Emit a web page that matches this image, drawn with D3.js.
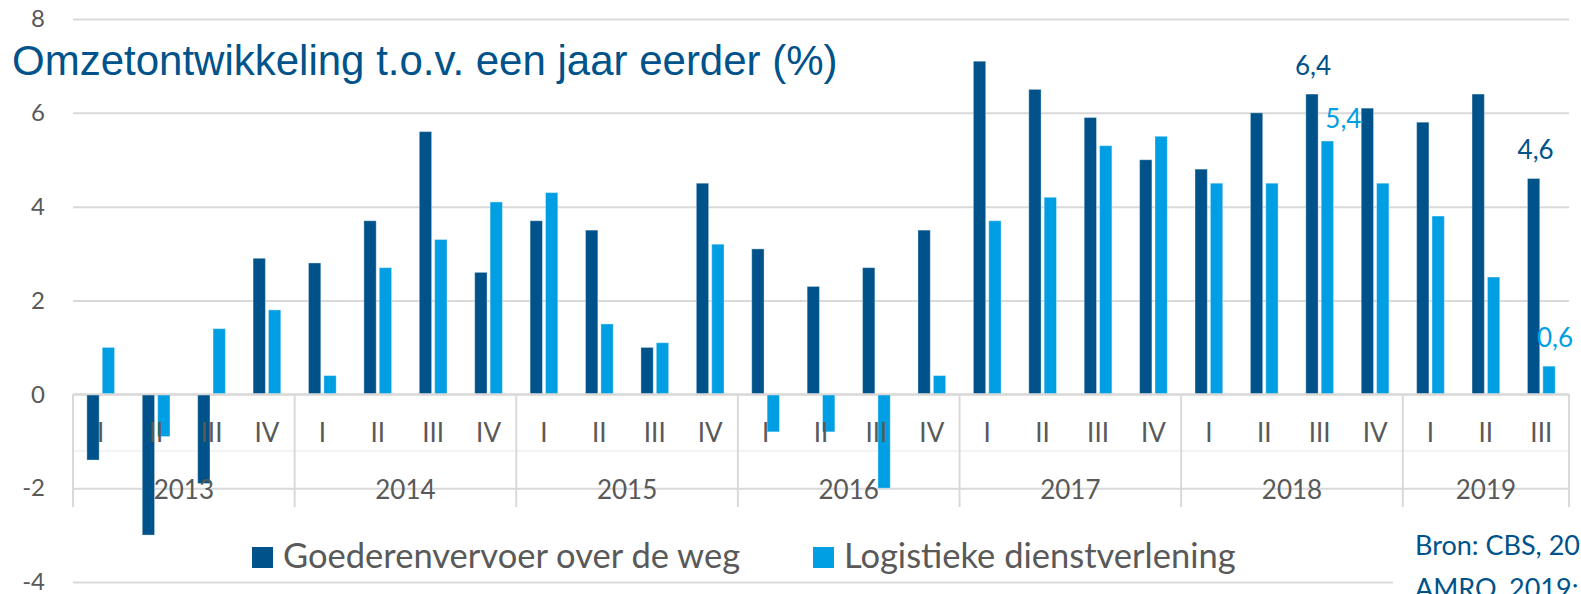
<!DOCTYPE html>
<html>
<head>
<meta charset="utf-8">
<script src="https://cdn.jsdelivr.net/npm/d3@7"></script>
<style>
  body { margin: 0; background: #fff; overflow: hidden; }
  svg { display: block; }
  .tick text, .lbl { font-family: Lato, "Open Sans", sans-serif; fill: #595959; }
</style>
</head>
<body>
<div id="chart"></div>
<script>
// data
var years = ["2013", "2014", "2015", "2016", "2017", "2018", "2019"];
var quarters = ["I", "II", "III", "IV"];
var seriesNames = ["Goederenvervoer over de weg", "Logistieke dienstverlening"];
var wegValues = [-1.4, -3.0, -1.9, 2.9,  2.8, 3.7, 5.6, 2.6,  3.7, 3.5, 1.0, 4.5,
                 3.1, 2.3, 2.7, 3.5,  7.1, 6.5, 5.9, 5.0,  4.8, 6.0, 6.4, 6.1,  5.8, 6.4, 4.6];
var logValues = [1.0, -0.9, 1.4, 1.8,  0.4, 2.7, 3.3, 4.1,  4.3, 1.5, 1.1, 3.2,
                 -0.8, -0.8, -2.0, 0.4,  3.7, 4.2, 5.3, 5.5,  4.5, 4.5, 5.4, 4.5,  3.8, 2.5, 0.6];
var yTicks = [-4, -2, 0, 2, 4, 6, 8];
// labelled bars: [series, index]
var labelled = [[0, 22], [1, 22], [0, 26], [1, 26]];

//styles
var width = 1581, height = 594;
var darkBlue = "#00538A";
var lightBlue = "#009FE3";
var gridColor = "#D9D9D9";
var textGrey = "#595959";
var colors = [darkBlue, lightBlue];

var plotLeft = 73, plotRight = 1569;

// build categories
var cats = [];
wegValues.forEach(function (v, i) {
  cats.push({ id: i, year: years[Math.floor(i / 4)], q: quarters[i % 4], vals: [v, logValues[i]] });
});

var svg = d3.select("#chart").append("svg")
  .attr("width", width)
  .attr("height", height);

var y = d3.scaleLinear().domain([-4, 8]).range([582, 19]);

var x0 = d3.scaleBand()
  .domain(cats.map(function (d) { return d.id; }))
  .range([plotLeft, plotRight])
  .paddingInner(0.5)
  .paddingOuter(0.25);

var x1 = d3.scaleBand()
  .domain([0, 1])
  .range([0, x0.bandwidth()])
  .paddingInner(0.2);

var step = x0.step();

// gridlines + y labels
var yAxis = d3.axisLeft(y)
  .tickValues(yTicks)
  .tickSize(-(plotRight - plotLeft))
  .tickPadding(28)
  .tickFormat(function (d) { return String(d); });

var yg = svg.append("g")
  .attr("transform", "translate(" + plotLeft + ",0)")
  .call(yAxis);
yg.select(".domain").remove();
yg.selectAll(".tick line").attr("stroke", gridColor).attr("stroke-width", 2);
yg.selectAll(".tick text")
  .attr("font-size", 24)
  .attr("fill", textGrey)
  .attr("text-anchor", "end")
  .attr("x", -28);

// category axis lines
var axisTop = y(0), axisMid = 451, axisBottom = 507;
svg.append("line")
  .attr("x1", plotLeft).attr("x2", plotRight)
  .attr("y1", axisMid).attr("y2", axisMid)
  .attr("stroke", "#EFEFEF").attr("stroke-width", 1.5);

var yearEdges = d3.range(0, cats.length + 1, 4).concat([cats.length]);
svg.selectAll(".sep")
  .data(yearEdges)
  .enter().append("line")
  .attr("class", "sep")
  .attr("x1", function (i) { return plotLeft + i * step; })
  .attr("x2", function (i) { return plotLeft + i * step; })
  .attr("y1", axisTop)
  .attr("y2", axisBottom)
  .attr("stroke", gridColor)
  .attr("stroke-width", 2);

// bars
var groups = svg.selectAll(".grp")
  .data(cats)
  .enter().append("g")
  .attr("class", "grp")
  .attr("transform", function (d) { return "translate(" + x0(d.id) + ",0)"; });

groups.selectAll("rect")
  .data(function (d) { return d.vals.map(function (v, s) { return { s: s, v: v }; }); })
  .enter().append("rect")
  .attr("x", function (d) { return x1(d.s); })
  .attr("width", x1.bandwidth())
  .attr("y", function (d) { return y(Math.max(0, d.v)); })
  .attr("height", function (d) { return Math.abs(y(d.v) - y(0)); })
  .attr("fill", function (d) { return colors[d.s]; })
  .attr("stroke", "rgba(255,255,255,0.35)")
  .attr("stroke-width", 1);

// zero line on top of bars
svg.append("line")
  .attr("x1", plotLeft).attr("x2", plotRight)
  .attr("y1", axisTop).attr("y2", axisTop)
  .attr("stroke", gridColor).attr("stroke-width", 2);

// quarter labels
svg.selectAll(".qlbl")
  .data(cats)
  .enter().append("text")
  .attr("class", "lbl qlbl")
  .attr("x", function (d) { return x0(d.id) + x0.bandwidth() / 2; })
  .attr("y", 442)
  .attr("text-anchor", "middle")
  .attr("font-size", 26)
  .text(function (d) { return d.q; });

// year labels
svg.selectAll(".ylbl")
  .data(years)
  .enter().append("text")
  .attr("class", "lbl ylbl")
  .attr("x", function (d, i) {
    var n = Math.min(4, cats.length - i * 4);
    return plotLeft + (i * 4 + n / 2) * step;
  })
  .attr("y", 499)
  .attr("text-anchor", "middle")
  .attr("font-size", 26)
  .text(function (d) { return d; });

// data labels
var fmt = function (v) { return d3.format(".1f")(v).replace(".", ","); };
var labelShift = { "0-22": [1, -19], "1-22": [16, -13], "0-26": [2, -20], "1-26": [6, -19] };
svg.selectAll(".dlbl")
  .data(labelled)
  .enter().append("text")
  .attr("class", "dlbl")
  .attr("font-family", "Lato, sans-serif")
  .attr("font-size", 26)
  .attr("text-anchor", "middle")
  .attr("fill", function (d) { return colors[d[0]]; })
  .attr("x", function (d) {
    return x0(d[1]) + x1(d[0]) + x1.bandwidth() / 2 + labelShift[d[0] + "-" + d[1]][0];
  })
  .attr("y", function (d) {
    var v = d[0] === 0 ? wegValues[d[1]] : logValues[d[1]];
    return y(v) + labelShift[d[0] + "-" + d[1]][1];
  })
  .text(function (d) { return fmt(d[0] === 0 ? wegValues[d[1]] : logValues[d[1]]); });

// title
svg.append("text")
  .attr("x", 12)
  .attr("y", 75)
  .attr("font-family", "'Liberation Sans', Arial, sans-serif")
  .attr("font-size", 42)
  .attr("fill", darkBlue)
  .text("Omzetontwikkeling t.o.v. een jaar eerder (%)");

// legend
var legendX = [252, 813];
var legend = svg.selectAll(".leg")
  .data(seriesNames)
  .enter().append("g")
  .attr("class", "leg")
  .attr("transform", function (d, i) { return "translate(" + legendX[i] + ",547)"; });
legend.append("rect")
  .attr("width", 21).attr("height", 21)
  .attr("fill", function (d, i) { return colors[i]; });
legend.append("text")
  .attr("class", "lbl")
  .attr("x", 31)
  .attr("y", 21)
  .attr("font-size", 34.5)
  .text(function (d) { return d; });

// source box (cut off at the right edge, as in the original)
svg.append("rect")
  .attr("x", 1393).attr("y", 515)
  .attr("width", width - 1393).attr("height", height - 515)
  .attr("fill", "#fff");
var src = svg.append("text")
  .attr("font-family", "Lato, sans-serif")
  .attr("font-size", 27)
  .attr("fill", darkBlue);
src.append("tspan").attr("x", 1415).attr("y", 555).text("Bron: CBS, 2019; ABN");
src.append("tspan").attr("x", 1415).attr("y", 598).text("AMRO, 2019: Q3");
</script>
</body>
</html>
